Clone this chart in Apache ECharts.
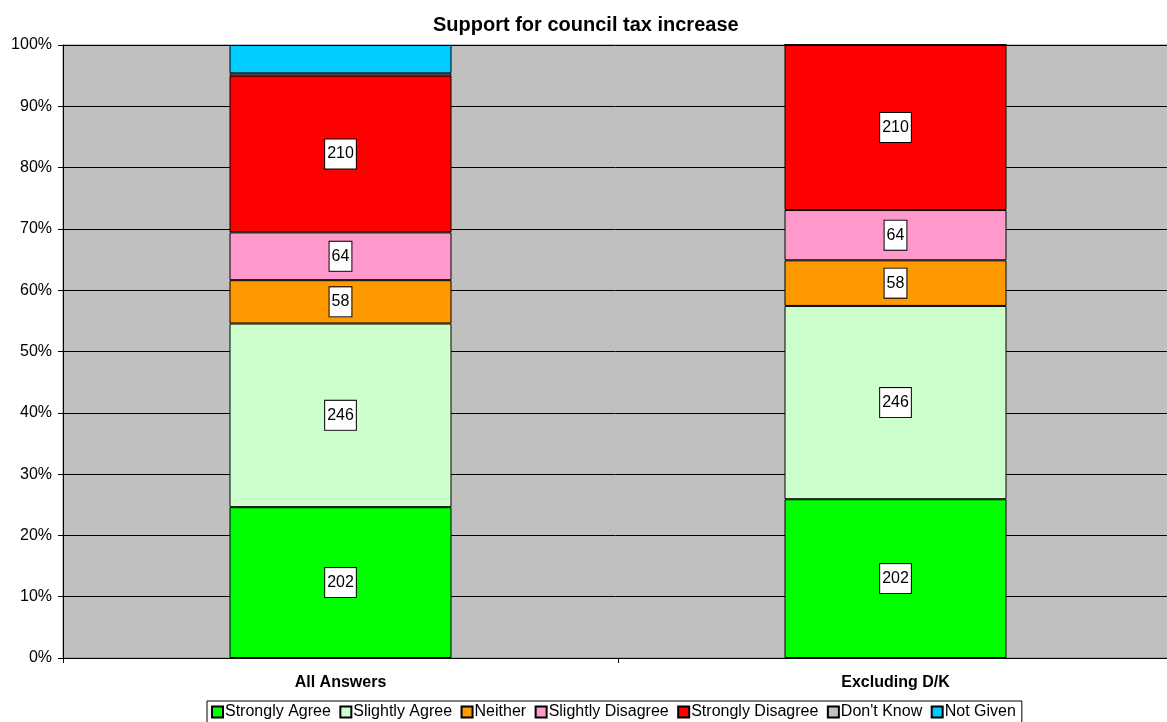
<!DOCTYPE html>
<html>
<head>
<meta charset="utf-8">
<script src="https://cdn.jsdelivr.net/npm/echarts@6/dist/echarts.min.js"></script>
<style>
  html, body { margin: 0; padding: 0; background: #fff; }
  #chart { width: 1167px; height: 722px; }
</style>
</head>
<body>
<div id="chart"></div>
<script>
var categories = ["All Answers", "Excluding D/K"];
var seriesNames = ["Strongly Agree", "Slightly Agree", "Neither", "Slightly Disagree", "Strongly Disagree", "Don't Know", "Not Given"];
var colors = ["#00FF00", "#CCFFCC", "#FF9900", "#FF99CC", "#FF0000", "#C0C0C0", "#00CCFF"];
// counts per category
var stronglyAgree = [202, 202];
var slightlyAgree = [246, 246];
var neither = [58, 58];
var slightlyDisagree = [64, 64];
var stronglyDisagree = [210, 210];
var dontKnow = [3, 0];
var notGiven = [38, 0];
var yTicks = [0, 10, 20, 30, 40, 50, 60, 70, 80, 90, 100];

var counts = [stronglyAgree, slightlyAgree, neither, slightlyDisagree, stronglyDisagree, dontKnow, notGiven];
var totals = categories.map(function (c, i) {
  var s = 0;
  counts.forEach(function (arr) { s += arr[i]; });
  return s;
});

var font = "Liberation Sans, Arial, sans-serif";
var series = counts.map(function (arr, k) {
  var showLabel = k < 5;
  return {
    name: seriesNames[k],
    type: "bar",
    stack: "total",
    barWidth: "40%",
    itemStyle: { color: colors[k], borderColor: "#000", borderWidth: 1 },
    label: {
      show: showLabel,
      position: "inside",
      formatter: function (p) { return arr[p.dataIndex]; },
      color: "#000",
      fontFamily: font,
      fontSize: 16,
      backgroundColor: "#fff",
      borderColor: "#000",
      borderWidth: 1,
      padding: [7, 2, 6, 2]
    },
    emphasis: { disabled: true },
    data: arr.map(function (v, i) { return v / totals[i] * 100; })
  };
});

var chart = echarts.init(document.getElementById("chart"));
chart.setOption({
  animation: false,
  title: {
    text: "Support for council tax increase",
    left: 428,
    top: 10,
    textStyle: { fontFamily: font, fontSize: 20, fontWeight: "bold", color: "#000" }
  },
  grid: {
    left: 63, width: 1110, top: 45, bottom: 64,
    outerBoundsMode: "none", containLabel: false,
    backgroundColor: "#C0C0C0", show: true, borderColor: "#808080", borderWidth: 1
  },
  legend: {
    data: seriesNames,
    bottom: -3,
    left: 207,
    itemWidth: 11,
    itemHeight: 11,
    itemGap: 8.5,
    padding: [3, 6, 5, 4],
    borderColor: "#000",
    borderWidth: 1,
    icon: "rect",
    textStyle: { fontFamily: font, fontSize: 16, color: "#000", padding: [0, 0, 0, -3] },
    selectedMode: false
  },
  xAxis: {
    type: "category",
    data: categories,
    axisLine: { lineStyle: { color: "#000" } },
    axisTick: { show: true, length: 5, lineStyle: { color: "#000" } },
    axisLabel: { fontFamily: font, fontSize: 16, fontWeight: "bold", color: "#000", margin: 17 }
  },
  yAxis: {
    type: "value",
    min: 0,
    max: 100,
    interval: 10,
    axisLine: { show: true, lineStyle: { color: "#000" } },
    axisTick: { show: true, length: 5, lineStyle: { color: "#000" } },
    splitLine: { show: true, lineStyle: { color: "#000", width: 1 } },
    axisLabel: {
      fontFamily: font,
      fontSize: 16,
      color: "#000",
      margin: 11,
      formatter: function (v) { return yTicks.indexOf(v) >= 0 ? v + "%" : ""; }
    }
  },
  series: series
});
</script>
</body>
</html>
